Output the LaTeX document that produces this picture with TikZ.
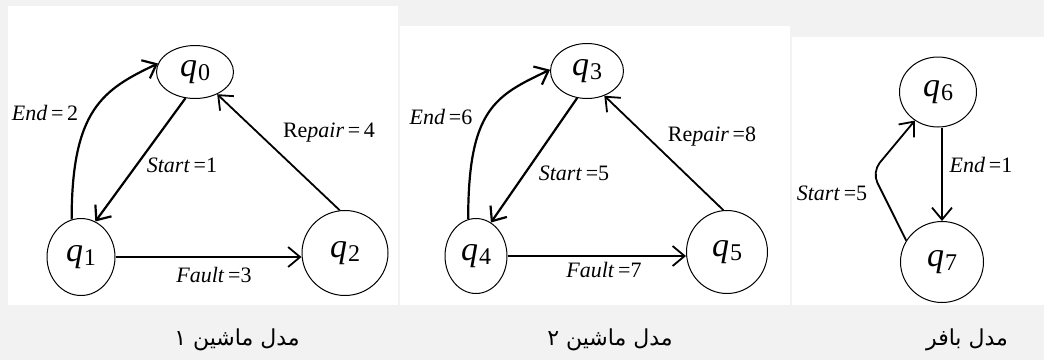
\documentclass[tikz,border=0pt]{standalone}
\usepackage{fontspec}
\setmainfont{Liberation Serif}
\newfontfamily\arabicfont[Script=Arabic]{DejaVu Sans}
\TeXXeTstate=1
\usetikzlibrary{arrows.meta,positioning,shapes.geometric}
\definecolor{bggray}{RGB}{242,242,242}
\newcommand{\qstate}[1]{\textit{q}\kern0.5pt\raisebox{-2pt}{\fontsize{12}{12}\selectfont #1}}

\begin{document}
\begin{tikzpicture}[
    x=0.5pt, y=0.5pt,
    state/.style={draw, ellipse, inner sep=0pt, line width=0.5pt, font=\fontsize{17}{17}\selectfont},
    arrow/.style={-{Straight Barb[length=6pt,width=10pt]}, line width=0.9pt},
    lbl/.style={font=\fontsize{11}{11}\selectfont, inner sep=1pt},
    caption/.style={font=\arabicfont\fontsize{11}{13}\selectfont},
    panel/.style={fill=white, draw=none}
]
\useasboundingbox[fill=bggray] (0,0) rectangle (1044,-360);
\fill[panel] (8,-6) rectangle (398,-305);
\fill[panel] (400,-26) rectangle (790,-305);
\fill[panel] (792,-37) rectangle (1044,-305);

% machine 1
\node[state, minimum width=38.5pt, minimum height=26.5pt] (q0) at (195,-72) {\qstate{0}};
\node[state, minimum width=34pt, minimum height=38.5pt] (q1) at (81,-257) {\qstate{1}};
\node[state, minimum width=43pt, minimum height=42.5pt] (q2) at (345,-253) {\qstate{2}};
\draw[arrow, line width=1.1pt] (q1.104) .. controls +(0,110) and +(-55,-26) .. (q0.167);
\draw[arrow, line width=1.1pt] (q0.250) -- (q1.68);
\draw[arrow] (q2.97) -- (q0.315);
\draw[arrow] (q1.east) -- (q1.east -| q2.west);
\node[lbl] (end2) at (45,-113) {\textit{End}\,=\,2};
\node[lbl] (start1) at (182,-165) {\textit{Start}\,=1};
\node[lbl] (repair4) at (329,-133) {Re\textit{pair}\,=\,4};
\node[lbl] (fault3) at (214,-275) {\textit{Fault}\,=3};

% machine 2
\node[state, minimum width=36.5pt, minimum height=27.5pt] (q3) at (587,-71) {\qstate{3}};
\node[state, minimum width=31pt, minimum height=37.5pt] (q4) at (476,-256) {\qstate{4}};
\node[state, minimum width=40.5pt, minimum height=41.5pt] (q5) at (727,-252) {\qstate{5}};
\draw[arrow, line width=1.1pt] (q4.102) .. controls +(0,110) and +(-55,-26) .. (q3.178);
\draw[arrow, line width=1.1pt] (q3.250) -- (q4.66);
\draw[arrow] (q5.95) -- (q3.305);
\draw[arrow] (q4.east) -- (q4.east -| q5.west);
\node[lbl] (end6) at (441,-117) {\textit{End}\,=6};
\node[lbl] (start5) at (574,-173) {\textit{Start}\,=5};
\node[lbl] (repair8) at (712,-137) {Re\textit{pair}\,=8};
\node[lbl] (fault7) at (604,-270) {\textit{Fault}\,=7};

% buffer
\node[state, minimum width=38.5pt, minimum height=35pt] (q6) at (938,-92) {\qstate{6}};
\node[state, minimum width=41.5pt, minimum height=40.5pt] (q7) at (942,-262) {\qstate{7}};
\coordinate (bend) at (872,-172);
\draw[arrow] (q6.south -| q7.north) -- (q7.north);
\draw[arrow, rounded corners=6pt] (q7.149) -- (bend) -- (q6.231);
\node[lbl] (end1) at (981,-165) {\textit{End}\,=1};
\node[lbl] (start5b) at (832,-193) {\textit{Start}\,=5};

% captions
\node[caption] (cap1) at (237,-340) {\beginR مدل ماشین ۱\endR};
\node[caption] (cap2) at (610,-340) {\beginR مدل ماشین ۲\endR};
\node[caption] (cap3) at (967,-340) {\beginR مدل بافر\endR};
\end{tikzpicture}
\end{document}
